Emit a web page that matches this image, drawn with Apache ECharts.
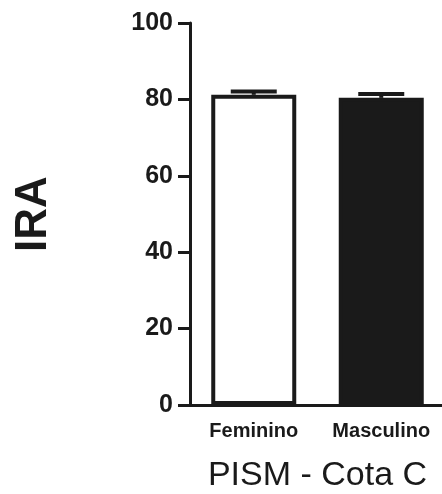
<!DOCTYPE html>
<html>
<head>
<meta charset="utf-8">
<script src="https://cdn.jsdelivr.net/npm/echarts@6/dist/echarts.min.js"></script>
<style>
  html, body { margin: 0; padding: 0; background: #ffffff; }
  #chart { width: 442px; height: 494px; }
</style>
</head>
<body>
<div id="chart"></div>
<script>
// Group labels, mean IRA per group and the upper error (SEM)
const categories = ['Feminino', 'Masculino'];
const means = [81.2, 80.4];
const errors = [0.9, 1.0];
const barFills = ['#ffffff', '#1a1a1a'];
const yTicks = { min: 0, max: 100, interval: 20 };

const ink = '#1a1a1a';
const font = '"Liberation Sans", Arial, sans-serif';

const chart = echarts.init(document.getElementById('chart'), null, { renderer: 'canvas' });

chart.setOption({
  animation: false,
  grid: { left: 190, top: 23, width: 255, height: 382, containLabel: false, outerBoundsMode: 'none' },
  xAxis: {
    type: 'category',
    data: categories,
    name: 'PISM - Cota C',
    nameLocation: 'middle',
    nameGap: 54,
    nameTextStyle: { fontFamily: font, fontSize: 34, color: ink },
    axisLine: { lineStyle: { color: ink, width: 3 } },
    axisTick: { alignWithLabel: true, length: 11, lineStyle: { color: ink, width: 3 } },
    axisLabel: {
      interval: 0, hideOverlap: false, margin: 16,
      fontFamily: font, fontSize: 20, fontWeight: 'bold', color: ink
    }
  },
  yAxis: {
    type: 'value',
    min: yTicks.min,
    max: yTicks.max,
    interval: yTicks.interval,
    name: 'IRA',
    nameLocation: 'middle',
    nameGap: 134,
    nameTextStyle: { fontFamily: font, fontSize: 44, fontWeight: 'bold', color: ink },
    splitLine: { show: false },
    axisLine: { show: true, lineStyle: { color: ink, width: 3 } },
    axisTick: { show: true, length: 12, lineStyle: { color: ink, width: 3 } },
    axisLabel: { margin: 17, fontFamily: font, fontSize: 25, fontWeight: 'bold', color: ink }
  },
  series: [
    {
      type: 'bar',
      barWidth: 85,
      data: means.map((v, i) => ({
        value: v,
        itemStyle: { color: barFills[i], borderColor: ink, borderWidth: 4 }
      })),
      z: 2
    },
    {
      // upper error bar: stem from the mean plus a horizontal cap
      type: 'custom',
      data: means.map((v, i) => [i, v, v + errors[i]]),
      z: 1,
      renderItem: function (params, api) {
        const base = api.coord([api.value(0), api.value(1)]);
        const top = api.coord([api.value(0), api.value(2)]);
        const half = 23;
        return {
          type: 'group',
          children: [
            {
              type: 'line',
              shape: { x1: base[0], y1: base[1], x2: top[0], y2: top[1] },
              style: { stroke: ink, lineWidth: 4 }
            },
            {
              type: 'line',
              shape: { x1: top[0] - half, y1: top[1], x2: top[0] + half, y2: top[1] },
              style: { stroke: ink, lineWidth: 4 }
            }
          ]
        };
      }
    }
  ]
});
</script>
</body>
</html>
